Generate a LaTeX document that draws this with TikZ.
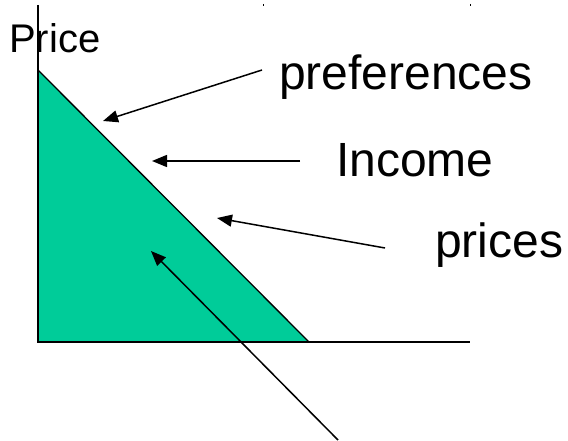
\documentclass[tikz,border=0pt]{standalone}
\usepackage{fontspec}
\setmainfont{Liberation Sans}
\usetikzlibrary{positioning, arrows.meta}
\definecolor{budgetgreen}{RGB}{0,204,153}
\tikzset{
  axisline/.style={line width=2pt},
  pointer/.style={line width=1.5pt, -{Triangle[length=15pt, width=12pt]}},
  tag/.style={inner sep=0pt, anchor=base west, font=\fontsize{48}{52}\selectfont}
}

\begin{document}
\begin{tikzpicture}[x=1pt, y=-1pt]
  \useasboundingbox (0,0) rectangle (568,441);
  % shaded budget set
  \fill[budgetgreen] (38,70) -- (38,342) -- (309,342) -- cycle;
  \draw[line width=1.3pt] (38,70) -- (309,342);
  \draw[axisline] (38,5) -- (38,342) -- (470,342);
  \draw[line width=0.8pt] (263,4) -- (263,6) (470,4) -- (470,6);
  % labels
  \node[tag, font=\fontsize{40}{44}\selectfont] (price) at (9,53) {Price};
  \node[tag] (pref) at (279,90) {preferences};
  \node[tag] (income) at (336,177) {Income};
  \node[tag] (prices) at (435,258) {prices};
  % arrow ends
  \coordinate (pref s) at (262,70);   \coordinate (pref t) at (103,121);
  \coordinate (inc s) at (300,161);   \coordinate (inc t) at (152,161);
  \coordinate (pri s) at (385,248);   \coordinate (pri t) at (217,218);
  \coordinate (set s) at (338,440);   \coordinate (set t) at (151,251);
  \foreach \a in {pref, inc, pri, set} { \draw[pointer] (\a\space s) -- (\a\space t); }
\end{tikzpicture}
\end{document}
